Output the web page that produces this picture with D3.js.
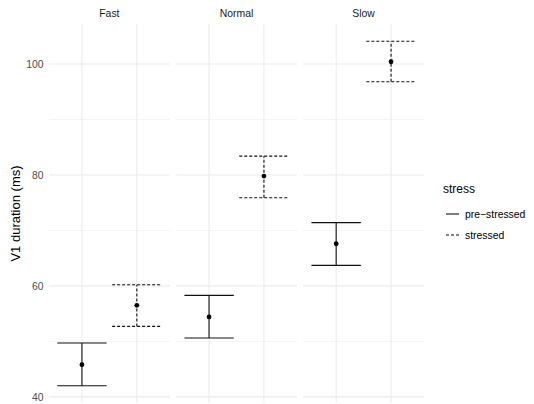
<!DOCTYPE html>
<html>
<head>
<meta charset="utf-8">
<script src="https://cdn.jsdelivr.net/npm/d3@7"></script>
<style>
  html, body { margin: 0; padding: 0; background: #fff; }
  svg { display: block; font-family: "Liberation Sans", Arial, sans-serif; }
</style>
</head>
<body>
<svg id="chart" width="534" height="404"></svg>
<script>
// ---- data ----
const facets = ["Fast", "Normal", "Slow"];
const stressLevels = ["pre-stressed", "stressed"];
const legendLabels = ["pre\u2212stressed", "stressed"];
const speed  = ["Fast", "Fast", "Normal", "Normal", "Slow", "Slow"];
const stress = ["pre-stressed", "stressed", "pre-stressed", "stressed", "pre-stressed", "stressed"];
const meanVals  = [45.8, 56.5, 54.4, 79.8, 67.6, 100.4];
const lowerVals = [42.0, 52.7, 50.6, 75.9, 63.7, 96.8];
const upperVals = [49.7, 60.2, 58.3, 83.4, 71.4, 104.1];
const yTicks = [40, 60, 80, 100];
const yMinorTicks = [50, 70, 90];
const yTitle = "V1 duration (ms)";
const legendTitle = "stress";

const rows = speed.map((s, i) => ({
  speed: s, stress: stress[i], mean: meanVals[i], lo: lowerVals[i], hi: upperVals[i]
}));

// ---- layout ----
const svg = d3.select("#chart");
const panelTop = 24, panelBottom = 403;
const fx = d3.scaleBand().domain(facets).range([49, 424]).paddingInner(0.05).paddingOuter(0);
const x = d3.scalePoint().domain(stressLevels).range([0, fx.bandwidth()]).padding(0.6);
const step = x.step();

const yMin = d3.min(lowerVals), yMax = d3.max(upperVals);
const ypad = (yMax - yMin) * 0.05;
const y = d3.scaleLinear().domain([yMin - ypad, yMax + ypad]).range([panelBottom, panelTop]);

const dashFor = s => s === "stressed" ? "3,2" : null;
const lineCol = "#111";
const small = "10.4px";

// panels
facets.forEach(f => {
  const g = svg.append("g").attr("transform", `translate(${fx(f)},0)`);
  // minor grid
  g.selectAll("line.ymin").data(yMinorTicks).enter().append("line")
    .attr("x1", 0).attr("x2", fx.bandwidth())
    .attr("y1", d => y(d)).attr("y2", d => y(d))
    .attr("stroke", "#ebebeb").attr("stroke-width", 0.55);
  // major grid
  g.selectAll("line.ymaj").data(yTicks).enter().append("line")
    .attr("x1", 0).attr("x2", fx.bandwidth())
    .attr("y1", d => y(d)).attr("y2", d => y(d))
    .attr("stroke", "#ebebeb").attr("stroke-width", 1.07);
  g.selectAll("line.xmaj").data(stressLevels).enter().append("line")
    .attr("x1", d => x(d)).attr("x2", d => x(d))
    .attr("y1", panelTop).attr("y2", panelBottom)
    .attr("stroke", "#ebebeb").attr("stroke-width", 1.07);

  // strip label
  g.append("text").attr("x", fx.bandwidth() / 2).attr("y", 13)
    .attr("text-anchor", "middle").attr("dominant-baseline", "central")
    .attr("font-size", small).attr("fill", "#1a1a1a").text(f);

  const data = rows.filter(r => r.speed === f);
  const hw = 0.45 * step;
  const eb = g.selectAll("g.eb").data(data).enter().append("g");
  eb.append("line")
    .attr("x1", d => x(d.stress)).attr("x2", d => x(d.stress))
    .attr("y1", d => y(d.lo)).attr("y2", d => y(d.hi))
    .attr("stroke", lineCol).attr("stroke-width", 1.1)
    .attr("stroke-dasharray", d => dashFor(d.stress));
  eb.append("line")
    .attr("x1", d => x(d.stress) - hw).attr("x2", d => x(d.stress) + hw)
    .attr("y1", d => y(d.hi)).attr("y2", d => y(d.hi))
    .attr("stroke", lineCol).attr("stroke-width", 1.1)
    .attr("stroke-dasharray", d => dashFor(d.stress));
  eb.append("line")
    .attr("x1", d => x(d.stress) - hw).attr("x2", d => x(d.stress) + hw)
    .attr("y1", d => y(d.lo)).attr("y2", d => y(d.lo))
    .attr("stroke", lineCol).attr("stroke-width", 1.1)
    .attr("stroke-dasharray", d => dashFor(d.stress));
  eb.append("circle")
    .attr("cx", d => x(d.stress)).attr("cy", d => y(d.mean))
    .attr("r", 2.4).attr("fill", "#000");
});

// y axis tick labels
const yAxis = d3.axisLeft(y).tickValues(yTicks).tickSize(0).tickPadding(0).tickFormat(d3.format("d"));
const ya = svg.append("g").attr("transform", "translate(43.5,0)").call(yAxis);
ya.select(".domain").remove();
ya.selectAll("text").attr("font-size", small).attr("fill", "#4d4d4d")
  .attr("font-family", "Liberation Sans, Arial, sans-serif");

// y title
svg.append("text")
  .attr("transform", `translate(15,${(panelTop + panelBottom) / 2}) rotate(-90)`)
  .attr("text-anchor", "middle").attr("dominant-baseline", "central")
  .attr("font-size", "13px").attr("fill", "#000").text(yTitle);

// legend
const lg = svg.append("g").attr("transform", "translate(443,0)");
lg.append("text").attr("x", 0).attr("y", 193).attr("font-size", "12px").attr("fill", "#000").text(legendTitle);
const keyY = d3.scalePoint().domain(stressLevels).range([214, 235]);
stressLevels.forEach((s, i) => {
  lg.append("line").attr("x1", 3).attr("x2", 16)
    .attr("y1", keyY(s)).attr("y2", keyY(s))
    .attr("stroke", lineCol).attr("stroke-width", 1.1)
    .attr("stroke-dasharray", dashFor(s));
  lg.append("text").attr("x", 22).attr("y", keyY(s))
    .attr("dominant-baseline", "central")
    .attr("font-size", small).attr("fill", "#000").text(legendLabels[i]);
});
</script>
</body>
</html>
